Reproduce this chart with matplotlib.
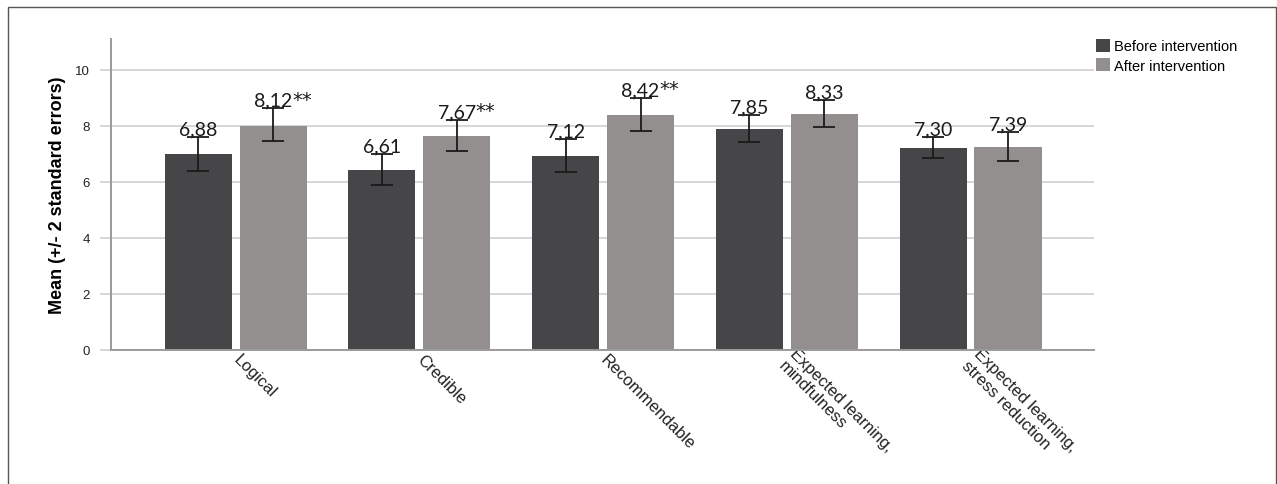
import matplotlib
matplotlib.use("Agg")
import matplotlib.pyplot as plt
import matplotlib.transforms as mtransforms
from matplotlib.patches import Rectangle
import numpy as np

# ---------------- data ----------------
categories = ["Logical", "Credible", "Recommendable",
              "Expected learning,\nmindfulness", "Expected learning,\nstress reduction"]
series_names = ["Before intervention", "After intervention"]

before_mean = [6.98, 6.42, 6.92, 7.87, 7.20]
after_mean = [7.99, 7.63, 8.37, 8.40, 7.24]
before_err_low = [6.38, 5.86, 6.33, 7.41, 6.83]
before_err_high = [7.58, 6.99, 7.52, 8.38, 7.58]
after_err_low = [7.43, 7.08, 7.79, 7.94, 6.72]
after_err_high = [8.61, 8.20, 8.99, 8.90, 7.78]

before_labels = ["6,88", "6,61", "7,12", "7,85", "7,30"]
after_labels = ["8,12", "7,67", "8,42", "8,33", "7,39"]
after_marks = ["**", "**", "**", "", ""]

y_ticks = [0, 2, 4, 6, 8, 10]
y_label = "Mean (+/- 2 standard errors)"

# ---------------- style ----------------
W, H = 1277, 485
DPI = 100
col_before = "#464648"
col_after = "#948f8f"
grid_col = "#d6d6d6"
axis_col = "#9a9a9a"
tick_font = ["Liberation Sans", "DejaVu Sans"]
label_font = ["Lato", "DejaVu Sans"]

fig = plt.figure(figsize=(W / DPI, H / DPI), dpi=DPI)
ax = fig.add_axes([111 / W, 1 - 350.5 / H, (1094 - 111) / W, (350.5 - 40) / H])

x = np.arange(len(categories))
bw = 0.365
off = 0.204

ax.bar(x - off, before_mean, bw, color=col_before, label=series_names[0], zorder=2)
ax.bar(x + off, after_mean, bw, color=col_after, label=series_names[1], zorder=2)

bm = np.array(before_mean); am = np.array(after_mean)
ax.errorbar(x - off, bm,
            yerr=[bm - np.array(before_err_low), np.array(before_err_high) - bm],
            fmt="none", ecolor="#1a1a1a", elinewidth=1.3, capsize=8, capthick=1.3, zorder=3)
ax.errorbar(x + off, am,
            yerr=[am - np.array(after_err_low), np.array(after_err_high) - am],
            fmt="none", ecolor="#1a1a1a", elinewidth=1.3, capsize=8, capthick=1.3, zorder=3)

# value labels
for i in range(len(categories)):
    ax.annotate(before_labels[i], xy=(x[i] - off, before_err_high[i]),
                xytext=(0, 2), textcoords="offset points",
                ha="center", va="baseline", fontsize=14, family=label_font,
                color="#1a1a1a", zorder=4)
    t = ax.annotate(after_labels[i], xy=(x[i] + off, after_err_high[i]),
                    xytext=(0, 2), textcoords="offset points",
                    ha="center", va="baseline", fontsize=14, family=label_font,
                    color="#1a1a1a", zorder=4)
    if after_marks[i]:
        ax.annotate(after_marks[i], xy=(1, 0), xycoords=t,
                    ha="left", va="bottom", fontsize=14, family=["DejaVu Sans"],
                    color="#1a1a1a", zorder=4)

ax.set_xlim(-0.678, 4.672)
ax.set_ylim(0, 11.09)
ax.set_yticks(y_ticks)
ax.set_yticklabels([str(v) for v in y_ticks], family=tick_font, fontsize=9.5)
ax.yaxis.grid(True, color=grid_col, linewidth=1.4, zorder=0)
ax.set_axisbelow(True)
ax.tick_params(axis="y", length=8, width=1.4, color=grid_col, pad=7, labelcolor="#222222")
ax.tick_params(axis="x", length=0, pad=0)

for s in ["top", "right"]:
    ax.spines[s].set_visible(False)
ax.spines["left"].set_color(axis_col)
ax.spines["left"].set_linewidth(1.4)
ax.spines["bottom"].set_color(axis_col)
ax.spines["bottom"].set_linewidth(1.4)

ax.set_xticks(x)
ax.set_xticklabels(categories, rotation=-45, rotation_mode="anchor",
                   ha="left", va="center", family=tick_font, fontsize=12, color="#222222",
                   linespacing=1.15)
shift = mtransforms.ScaledTranslation(0 / DPI, -7 / DPI, fig.dpi_scale_trans)
for lab in ax.get_xticklabels():
    lab.set_transform(lab.get_transform() + shift)

ax.set_ylabel(y_label, family=tick_font, fontsize=13, fontweight="bold", va="center")
ax.yaxis.set_label_coords(57 / W, 0.5,
                          transform=mtransforms.blended_transform_factory(fig.transFigure, ax.transAxes))

ax.legend(loc="upper left", bbox_to_anchor=(1096 / W, 1 - 40 / H),
          bbox_transform=fig.transFigure, frameon=False,
          handlelength=0.95, handleheight=0.95, handletextpad=0.3,
          labelspacing=0.35, borderpad=0, borderaxespad=0,
          prop={"family": tick_font, "size": 10.5})

# figure border
fig.patches.append(Rectangle((8 / W, -0.01), (1276 - 8) / W, 1.01 - 8 / H,
                             transform=fig.transFigure, fill=False,
                             edgecolor="#555555", linewidth=1.0))

fig.savefig("out.png", dpi=DPI)
